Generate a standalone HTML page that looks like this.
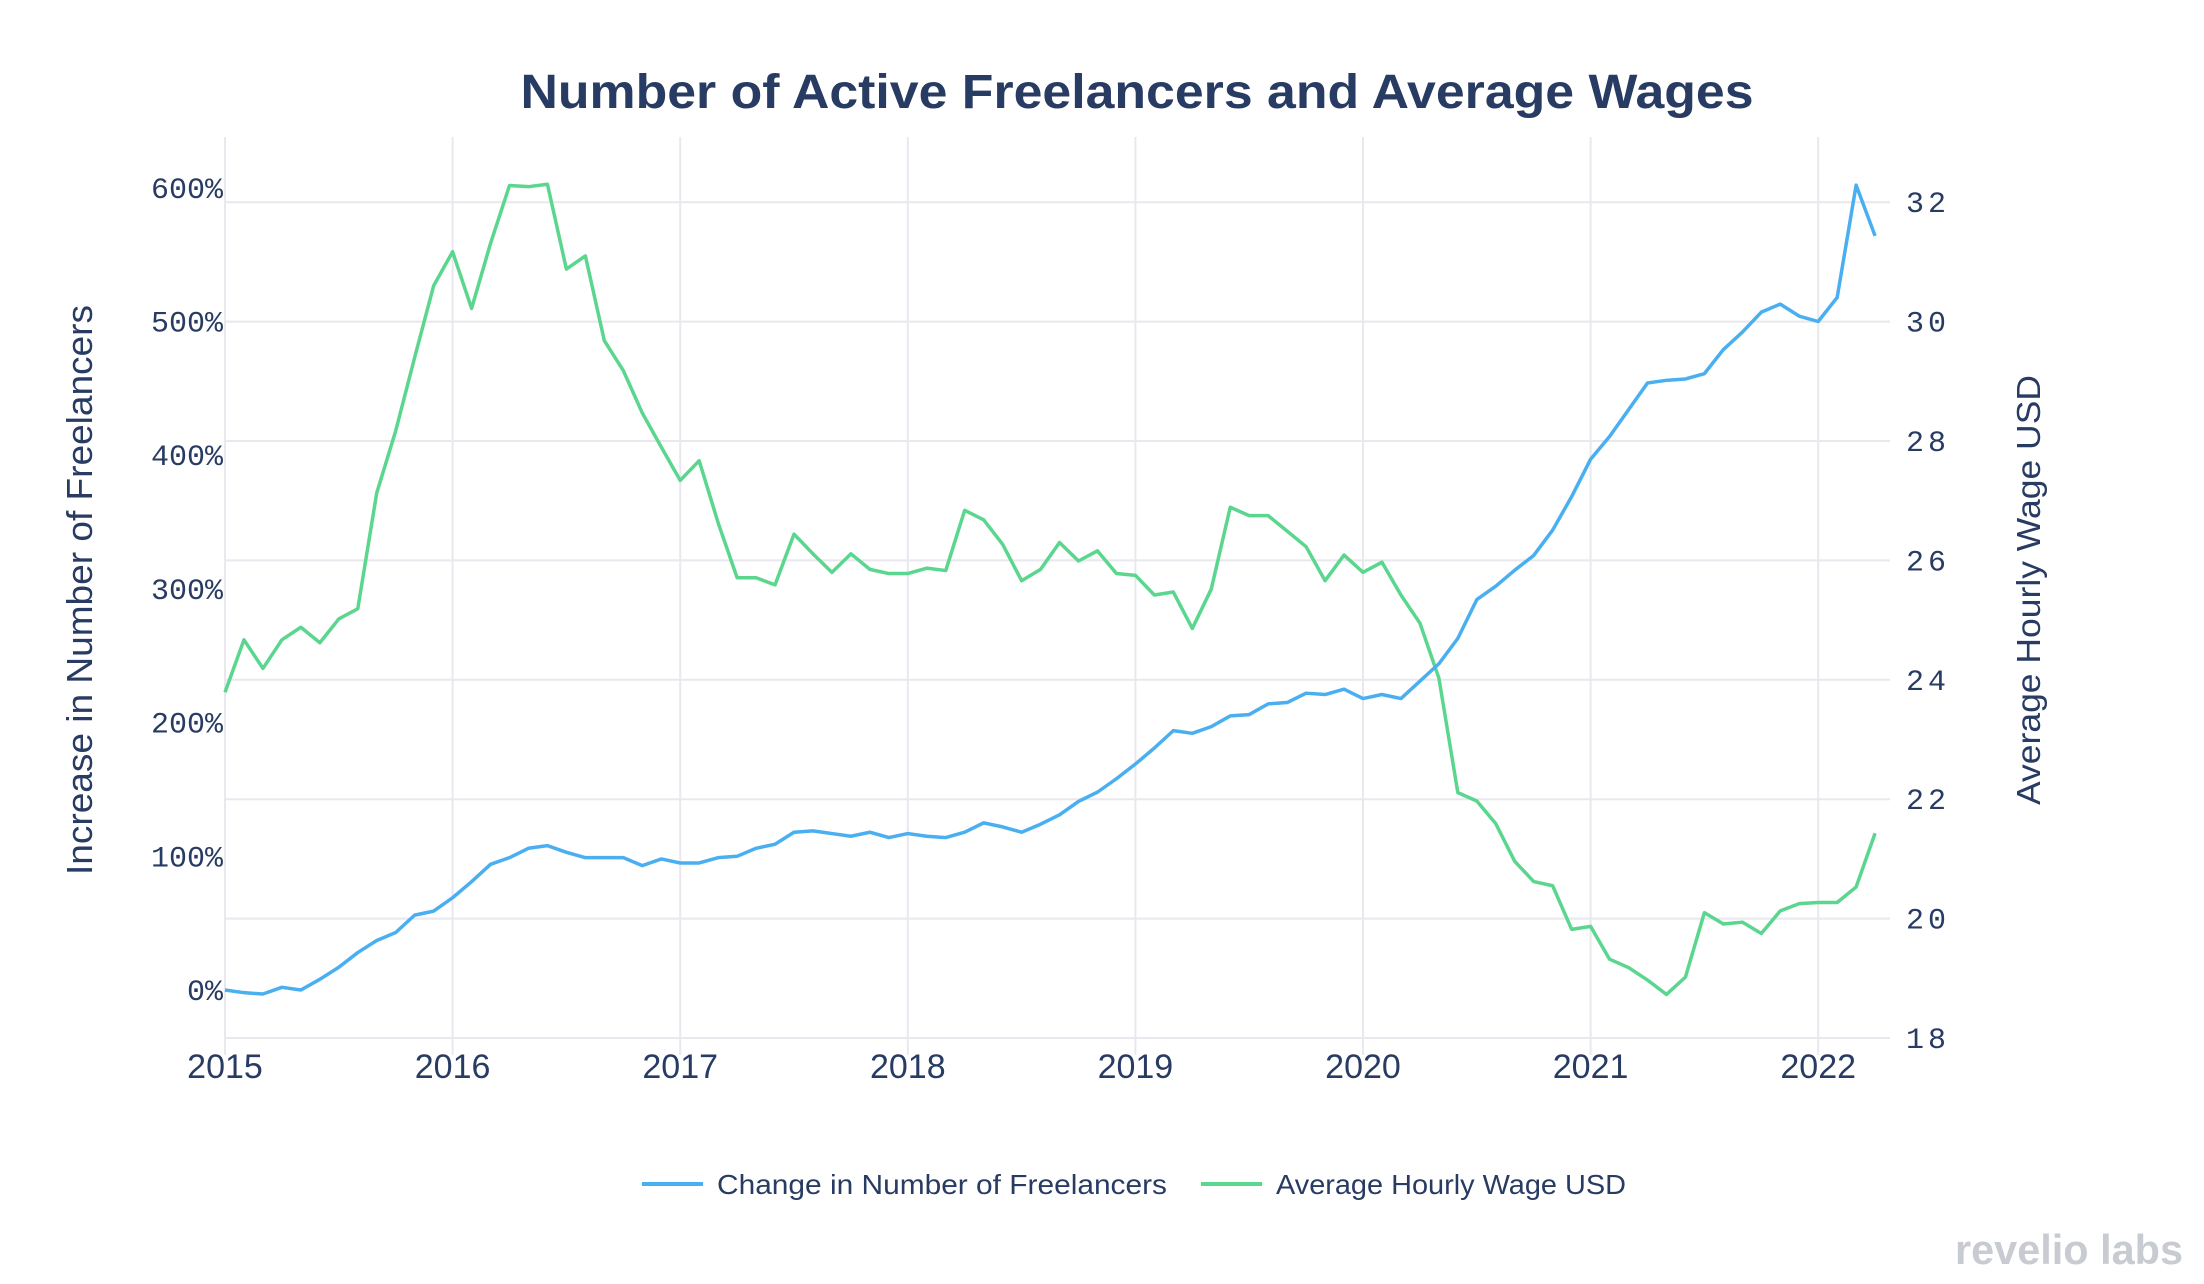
<!DOCTYPE html>
<html><head><meta charset="utf-8"><style>
html,body{margin:0;padding:0;background:#fff;}
svg{display:block;font-family:"Liberation Sans",sans-serif;}
</style></head><body>
<svg id="chart" width="2204" height="1284" viewBox="0 0 2204 1284">
<text x="1137" y="108" text-anchor="middle" font-size="48" font-weight="bold" fill="#283b63" textLength="1233" lengthAdjust="spacingAndGlyphs">Number of Active Freelancers and Average Wages</text>
<g id="grid"></g>
<g id="axes"></g>
<g id="series"></g>
<text transform="translate(92,590) rotate(-90)" text-anchor="middle" font-size="36" fill="#283b63" textLength="570" lengthAdjust="spacingAndGlyphs">Increase in Number of Freelancers</text>
<text transform="translate(2040,590) rotate(-90)" text-anchor="middle" font-size="33" fill="#283b63" textLength="430" lengthAdjust="spacingAndGlyphs">Average Hourly Wage USD</text>
<g>
<g>
<line x1="642" y1="1184" x2="703" y2="1184" stroke="#4aaff0" stroke-width="4"/>
<text x="717" y="1194" font-size="28" fill="#283b63" textLength="450" lengthAdjust="spacingAndGlyphs">Change in Number of Freelancers</text>
</g>
<g>
<line x1="1201" y1="1184" x2="1262" y2="1184" stroke="#5ad68e" stroke-width="4"/>
<text x="1276" y="1194" font-size="28" fill="#283b63" textLength="350" lengthAdjust="spacingAndGlyphs">Average Hourly Wage USD</text>
</g>
</g>
<text x="1955" y="1264" font-size="42" font-weight="bold" fill="#c8cbd2" textLength="228" lengthAdjust="spacingAndGlyphs">revelio labs</text>
</svg>
<script>
const years = [2015,2016,2017,2018,2019,2020,2021,2022];
const leftTicks = [0,100,200,300,400,500,600];
const rightTicks = [18,20,22,24,26,28,30,32];
const freelancers = [
0,-2,-3,2,0,8,17,28,37,43,56,59,
69,81,94,99,106,108,103,99,99,99,93,98,
95,95,99,100,106,109,118,119,117,115,118,114,
117,115,114,118,125,122,118,124,131,141,148,158,
169,181,194,192,197,205,206,214,215,222,221,225,
218,221,218,231,244,263,292,302,314,325,344,369,
397,414,434,454,456,457,461,479,492,507,513,504,
500,518,602,564];
const wages = [
23.79,24.67,24.19,24.67,24.88,24.62,25.02,25.19,27.13,28.17,29.4,30.6,
31.17,30.22,31.31,32.28,32.26,32.30,30.88,31.1,29.68,29.18,28.47,27.9,
27.34,27.67,26.63,25.71,25.71,25.59,26.44,26.11,25.8,26.11,25.85,25.78,
25.78,25.87,25.83,26.84,26.68,26.27,25.66,25.85,26.3,25.99,26.16,25.78,
25.75,25.42,25.47,24.86,25.52,26.89,26.75,26.75,26.49,26.23,25.66,26.09,
25.8,25.97,25.42,24.95,24.03,22.11,21.97,21.59,20.96,20.62,20.55,19.82,
19.87,19.32,19.18,18.97,18.73,19.02,20.1,19.91,19.94,19.75,20.13,20.25,
20.27,20.27,20.53,21.43];

const NS="http://www.w3.org/2000/svg";
const X0=225, YEARW=227.6, PLOT_L=225, PLOT_R=1890, PLOT_T=137, PLOT_B=1055;
function xScale(m){return X0 + m*YEARW/12;}
function xYear(y){return X0 + (y-2015)*YEARW;}
function yLeft(v){return 990 - v*1.337;}
function yRight(w){return 1038 - (w-18)*59.7;}
function mk(tag, attrs, parent){const e=document.createElementNS(NS,tag);for(const k in attrs)e.setAttribute(k,attrs[k]);parent.appendChild(e);return e;}
const grid=document.getElementById('grid'), axes=document.getElementById('axes'), series=document.getElementById('series');
years.forEach(y=>{
  const l=mk('line',{x1:xYear(y),x2:xYear(y),y1:PLOT_T,y2:PLOT_B,stroke:'#e8e8ee','stroke-width':2},grid);
  
  
  const t=mk('text',{x:xYear(y),y:1078,'text-anchor':'middle','font-size':34,fill:'#283b63'},axes);
  t.textContent=y;
  
  
});
rightTicks.forEach(w=>{
  const l=mk('line',{x1:PLOT_L,x2:PLOT_R,y1:yRight(w),y2:yRight(w),stroke:'#e8e8ee','stroke-width':2},grid);
  
  
  const t=mk('text',{x:1906,y:yRight(w)+10,'font-size':30,'letter-spacing':4,fill:'#283b63','font-family':'Liberation Mono, monospace'},axes);
  t.textContent=w;
  
  
});
leftTicks.forEach(v=>{
  const t=mk('text',{x:223,y:yLeft(v)+10,'text-anchor':'end','font-size':30,fill:'#283b63','font-family':'Liberation Mono, monospace'},axes);
  t.textContent=v+'%';
  
  
});
const pw=mk('polyline',{points:wages.map((w,i)=>xScale(i)+','+yRight(w)).join(' '),fill:'none',stroke:'#5ad68e','stroke-width':3.5,'stroke-linejoin':'round'},series);


const pf=mk('polyline',{points:freelancers.map((v,i)=>xScale(i)+','+yLeft(v)).join(' '),fill:'none',stroke:'#4aaff0','stroke-width':3.5,'stroke-linejoin':'round'},series);


</script>
</body></html>
